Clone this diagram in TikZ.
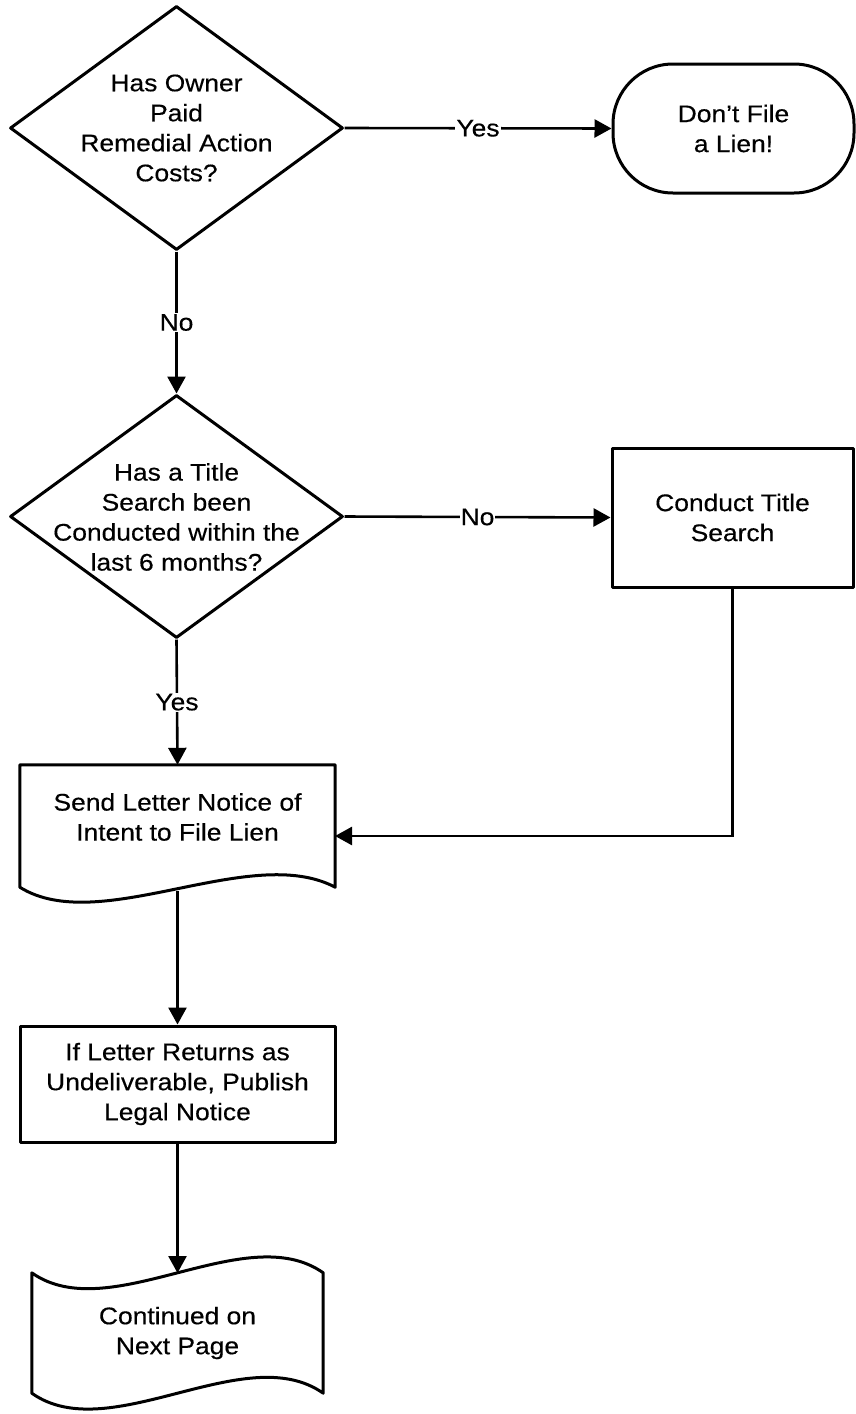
\documentclass[tikz,border=0pt]{standalone}
\usepackage{fontspec}
\setmainfont{Liberation Sans}[FakeStretch=1.1,FakeBold=0.4]
\usetikzlibrary{shapes.geometric,arrows.meta,calc}
\begin{document}
\begin{tikzpicture}[x=1pt,y=-1pt,
  txt/.style={align=center, inner sep=0pt, font=\fontsize{24}{30}\selectfont},
  shapeline/.style={draw=black, line width=3pt, line join=round},
  decision/.style={shapeline, diamond, minimum width=333pt, minimum height=244pt, inner sep=0pt},
  processbox/.style={shapeline, rectangle, align=center, inner sep=0pt, font=\fontsize{24}{30}\selectfont},
  terminal/.style={shapeline, rectangle, rounded corners=60pt, align=center, inner sep=0pt, font=\fontsize{24}{30}\selectfont},
  ghost/.style={draw=none, rectangle, inner sep=0pt},
  conn/.style={draw=black, line width=2.6pt, -{Triangle[length=17pt,width=18pt]}},
  lbl/.style={fill=white, inner sep=1pt, font=\fontsize{24}{30}\selectfont}
]
\useasboundingbox[fill=white] (0,0) rectangle (856,1414);

% decision 1
\node[decision] (d1) at (176.5,128) {};
\node[txt] (d1t) at (176.5,128) {Has Owner\\Paid\\Remedial Action\\Costs?};

% terminal
\node[terminal, minimum width=241pt, minimum height=129pt] (term) at (733.5,128.5) {Don’t File\\a Lien!};

% decision 2
\node[decision, minimum height=243pt] (d2) at (176.5,516.5) {};
\node[txt] (d2t) at (176.5,517) {Has a Title\\Search been\\Conducted within the\\last 6 months?};

% conduct title search
\node[processbox, minimum width=241pt, minimum height=139pt] (cts) at (732.5,517.5) {Conduct Title\\Search};

% document 1
\node[ghost, minimum width=315pt, minimum height=122pt] (doc1) at (177.5,826) {};
\draw[shapeline] (doc1.south west) -- (doc1.north west) -- (doc1.north east) -- (doc1.south east)
  .. controls ($(doc1.south east)+(-85,-45)$) and ($(doc1.south west)+(80,50)$) .. (doc1.south west) -- cycle;
\node[txt] (doc1t) at (177.5,817) {Send Letter Notice of\\Intent to File Lien};
\coordinate (doc1out) at (177.5,891);
\coordinate (doc1in) at (335,836);

% publish box
\node[processbox, minimum width=315pt, minimum height=116pt] (pub) at (177.5,1084) {If Letter Returns as\\Undeliverable, Publish\\Legal Notice};

% document 2 (tape)
\node[ghost, minimum width=291pt, minimum height=120pt] (doc2) at (177.5,1333) {};
\draw[shapeline] (doc2.north west)
  .. controls ($(doc2.north west)+(78,55)$) and ($(doc2.north east)+(-78,-55)$) .. (doc2.north east)
  -- (doc2.south east)
  .. controls ($(doc2.south east)+(-78,-55)$) and ($(doc2.south west)+(78,55)$) .. (doc2.south west) -- cycle;
\node[txt] (doc2t) at (177.5,1333) {Continued on\\Next Page};
\coordinate (doc2in) at (177.5,1273);

% connectors
\draw[conn] (d1.east) -- node[lbl] (l1) {Yes} (term.west);
\draw[conn] (d1.south) -- node[lbl] (l2) {No} (d2.north);
\draw[conn] (d2.east) -- node[lbl] (l3) {No} (cts.west);
\draw[conn] (d2.south) -- node[lbl] (l4) {Yes} (doc1.north);
\draw[conn] (cts.south) |- (doc1in);
\draw[conn] (doc1out) -- (pub.north);
\draw[conn] (pub.south) -- (doc2in);
\end{tikzpicture}
\end{document}
